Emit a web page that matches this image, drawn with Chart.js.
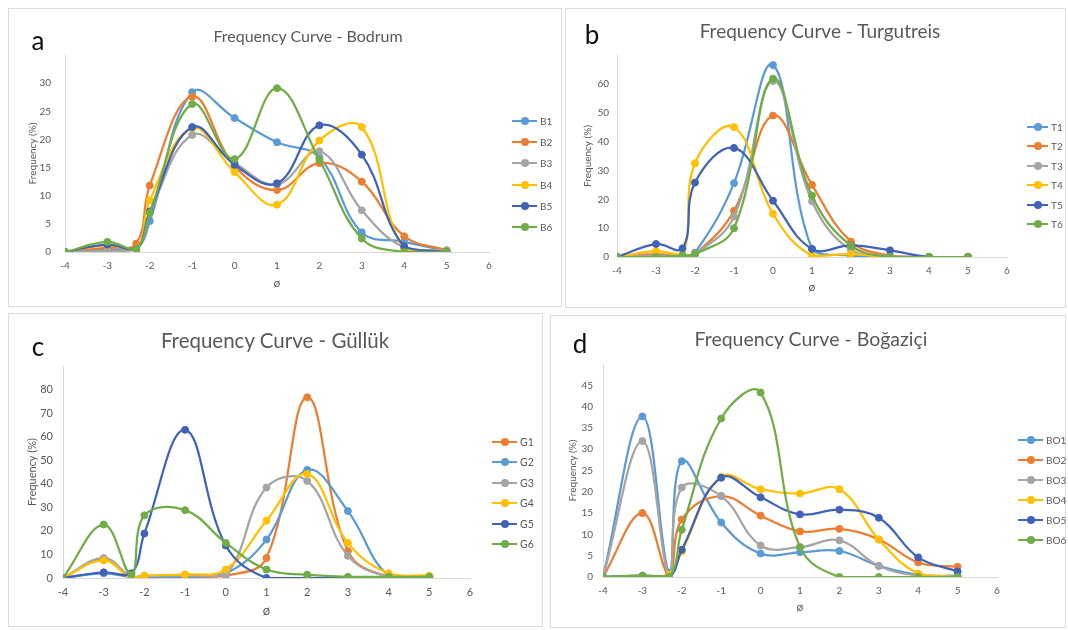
<!DOCTYPE html>
<html>
<head>
<meta charset="utf-8">
<script src="https://cdn.jsdelivr.net/npm/chart.js@4.4.0/dist/chart.umd.min.js"></script>
<style>
    body { margin: 0; background: #fff; font-family: Lato, sans-serif; width: 1068px; height: 630px; overflow: hidden; }
    .panel { position: absolute; border: 1px solid #dcdcdc; box-sizing: border-box; background: #fff; }
    .panel canvas { position: absolute; left: 0; top: 0; }
    .title { position: absolute; color: #595959; white-space: nowrap; transform: translate(-50%, -50%); }
    .letter { position: absolute; color: #111; font-size: 26px; transform: translate(-50%, -50%); }
    .lg { position: absolute; color: #595959; white-space: nowrap; height: 12px; line-height: 12px; }
    .lg .ln { position: absolute; left: 0; top: 5px; height: 2px; }
    .lg .dt { position: absolute; top: 2px; width: 8px; height: 8px; border-radius: 50%; }
</style>
</head>
<body>
<div class="panel" id="pa" style="left:8px;top:8px;width:554px;height:299px"><canvas id="chartA"></canvas></div>
<div class="panel" id="pb" style="left:565px;top:8px;width:501px;height:300px"><canvas id="chartB"></canvas></div>
<div class="panel" id="pc" style="left:8px;top:313px;width:535px;height:314px"><canvas id="chartC"></canvas></div>
<div class="panel" id="pd" style="left:550px;top:315px;width:516px;height:313px"><canvas id="chartD"></canvas></div>

<div class="letter" style="left:38px;top:40px">a</div>
<div class="letter" style="left:592px;top:34px">b</div>
<div class="letter" style="left:38px;top:346px">c</div>
<div class="letter" style="left:580px;top:343px">d</div>

<div class="title" style="left:308px;top:35px;font-size:16px">Frequency Curve - Bodrum</div>
<div class="title" style="left:820px;top:30px;font-size:19px">Frequency Curve - Turgutreis</div>
<div class="title" style="left:275px;top:340px;font-size:20.5px">Frequency Curve - Güllük</div>
<div class="title" style="left:811px;top:338px;font-size:19.5px">Frequency Curve - Boğaziçi</div>

<script>
// phi classes (x values shared by every panel)
const phi = [-4, -3, -2.32, -2, -1, 0, 1, 2, 3, 4, 5];

// Bodrum
const bodrumNames = ["B1", "B2", "B3", "B4", "B5", "B6"];
const B1 = [0, 0.5, 0.5, 5.5, 28.4, 23.8, 19.5, 16.8, 3.5, 1.8, 0.2];
const B2 = [0, 0.8, 1.5, 11.8, 27.6, 15.3, 11.0, 15.8, 12.5, 2.8, 0.3];
const B3 = [0, 0.2, 0.5, 7.0, 20.8, 15.8, 12.0, 17.9, 7.4, 0.8, 0.3];
const B4 = [0, 1.2, 0.5, 9.2, 22.0, 14.2, 8.4, 19.8, 22.2, 0.5, 0];
const B5 = [0, 1.3, 0.5, 7.2, 22.2, 15.5, 12.2, 22.5, 17.3, 1.0, 0];
const B6 = [0, 1.8, 0.5, 7.0, 26.3, 16.5, 29.1, 16.4, 2.4, 0, 0];

// Turgutreis
const turgutNames = ["T1", "T2", "T3", "T4", "T5", "T6"];
const T1 = [0, 0.5, 0.5, 1.5, 25.6, 66.5, 2.8, 0.5, 0, 0, 0];
const T2 = [0, 1.0, 0.5, 1.0, 16.0, 49.0, 25.0, 5.3, 0.5, 0, 0];
const T3 = [0, 0.5, 0.5, 1.0, 14.0, 61.0, 19.3, 2.3, 0.3, 0, 0];
const T4 = [0, 2.0, 1.0, 32.5, 45.0, 15.0, 0.5, 1.0, 0, 0, 0];
const T5 = [0, 4.5, 3.0, 25.8, 37.8, 19.5, 2.8, 4.0, 2.3, 0, 0];
const T6 = [0, 0, 0.5, 1.0, 10.0, 61.8, 21.3, 3.9, 0, 0, 0];

// Gulluk
const gullukNames = ["G1", "G2", "G3", "G4", "G5", "G6"];
const G1 = [0, 8.0, 0, 0.5, 0.5, 1.0, 8.5, 76.7, 11.4, 0.5, 0.5];
const G2 = [0, 2.0, 0.5, 0.5, 0.5, 2.0, 16.3, 45.9, 28.4, 1.0, 0];
const G3 = [0, 8.5, 0.5, 1.0, 1.0, 1.5, 38.4, 41.2, 9.4, 0.5, 0];
const G4 = [0, 7.5, 0, 1.0, 1.5, 3.6, 24.3, 44.2, 14.9, 2.0, 1.0];
const G5 = [0, 2.4, 2.0, 18.9, 62.9, 13.8, 0, 0, 0, 0, 0];
const G6 = [0, 22.7, 1.4, 26.6, 28.8, 14.9, 3.6, 1.4, 0.5, 0.5, 0.5];

// Bogazici
const bogaziciNames = ["BO1", "BO2", "BO3", "BO4", "BO5", "BO6"];
const BO1 = [0, 37.7, 1.0, 27.2, 12.8, 5.5, 5.8, 6.1, 2.6, 0.5, 0.3];
const BO2 = [0, 15.0, 0.5, 13.5, 19.0, 14.4, 10.7, 11.3, 8.8, 3.4, 2.4];
const BO3 = [0, 31.9, 0.5, 21.0, 19.0, 7.4, 7.0, 8.6, 2.6, 0.3, 0];
const BO4 = [0, 0, 0.5, 6.0, 23.5, 20.6, 19.6, 20.6, 8.8, 0.8, 0];
const BO5 = [0, 0.3, 0, 6.4, 23.3, 18.7, 14.7, 15.8, 13.9, 4.6, 1.3];
const BO6 = [0, 0.3, 0, 11.1, 37.2, 43.3, 7.0, 0, 0, 0, 0];

const xTicks = [-4, -3, -2, -1, 0, 1, 2, 3, 4, 5, 6];

// excel 2013 palette
const colorsA = ["#5B9BD5", "#ED7D31", "#A5A5A5", "#FFC000", "#4063B8", "#70AD47"];
const colorsC = ["#ED7D31", "#5B9BD5", "#A5A5A5", "#FFC000", "#4063B8", "#70AD47"];

function makePanel(opt) {
    const L = opt.box[0], T = opt.box[1], R = opt.box[2], B = opt.box[3];
    const w = R - L - 2, h = B - T - 2;
    const ox = L + 1, oy = T + 1;
    const canvas = document.getElementById(opt.id);
    canvas.width = w;
    canvas.height = h;

    const yAxisW = opt.area[0] - ox;
    const xTitleLh = opt.font * 1.2 + 2;
    const xAxisH = opt.xTitleY - opt.area[3] + xTitleLh / 2;
    const tickFont = { family: "Lato", size: opt.font };

    const datasets = opt.series.map(function (vals, i) {
        return {
            label: opt.names[i],
            data: vals.map(function (v, k) { return { x: phi[k], y: v }; }),
            borderColor: opt.colors[i],
            backgroundColor: opt.colors[i],
            pointBackgroundColor: opt.colors[i],
            pointBorderColor: opt.colors[i],
            pointRadius: 3.5,
            pointBorderWidth: 1,
            borderWidth: 2.25,
            tension: 0.4,
            order: opt.series.length - i
        };
    });

    new Chart(canvas.getContext("2d"), {
        type: "line",
        data: { datasets: datasets },
        options: {
            responsive: false,
            animation: false,
            devicePixelRatio: 1,
            layout: {
                padding: {
                    left: 0,
                    top: opt.area[1] - oy,
                    right: (ox + w) - opt.area[2],
                    bottom: (oy + h) - opt.area[3] - xAxisH
                }
            },
            plugins: { legend: { display: false }, tooltip: { enabled: false } },
            scales: {
                x: {
                    type: "linear",
                    min: -4, max: 6,
                    afterBuildTicks: function (s) { s.ticks = xTicks.map(function (v) { return { value: v }; }); },
                    afterFit: function (s) { s.height = xAxisH; },
                    grid: { display: false, drawTicks: false },
                    border: { display: true, color: "#d9d9d9", width: 1 },
                    ticks: { color: "#595959", font: tickFont, padding: opt.xPad, maxRotation: 0 },
                    title: { display: true, text: "ø", color: "#595959", font: { family: "Lato", size: opt.font + 2 }, padding: { top: 0, bottom: 1 } }
                },
                y: {
                    min: 0, max: opt.ymax,
                    ticks: {
                        stepSize: opt.ystep, color: "#595959", font: tickFont, padding: opt.yPad,
                        callback: function (v) { return v === opt.ymax ? "" : v; }
                    },
                    afterFit: function (s) { s.width = yAxisW; },
                    grid: { display: false, drawTicks: false },
                    border: { display: true, color: "#d9d9d9", width: 1 },
                    title: {
                        display: true, text: "Frequency (%)", color: "#595959",
                        font: { family: "Lato", size: opt.font },
                        padding: { top: opt.yTitleX - ox - opt.font * 0.6, bottom: 0 }
                    }
                }
            }
        }
    });

    // legend (line with marker, like excel)
    opt.names.forEach(function (name, i) {
        const item = document.createElement("div");
        item.className = "lg";
        item.style.left = opt.legend.x + "px";
        item.style.top = (opt.legend.y + i * opt.legend.step - 6) + "px";
        item.style.fontSize = opt.legend.size + "px";
        item.style.paddingLeft = (opt.legend.len + 3) + "px";
        item.innerHTML = '<span class="ln" style="width:' + opt.legend.len + 'px;background:' + opt.colors[i] + '"></span>' +
            '<span class="dt" style="left:' + (opt.legend.len / 2 - 4) + 'px;background:' + opt.colors[i] + '"></span>' + name;
        document.body.appendChild(item);
    });
}

// Bodrum Chart
makePanel({
    id: "chartA", box: [8, 8, 562, 307], area: [65, 55, 489, 252],
    ymax: 35, ystep: 5, font: 10, xPad: 8, yPad: 14, xTitleY: 284, yTitleX: 33,
    names: bodrumNames, series: [B1, B2, B3, B4, B5, B6], colors: colorsA,
    legend: { x: 512, y: 121, step: 21.2, len: 25, size: 10 }
});

// Turgutreis Chart
makePanel({
    id: "chartB", box: [565, 8, 1066, 308], area: [617, 55, 1007, 257],
    ymax: 70, ystep: 10, font: 10, xPad: 8, yPad: 8, xTitleY: 288, yTitleX: 588,
    names: turgutNames, series: [T1, T2, T3, T4, T5, T6], colors: colorsA,
    legend: { x: 1027, y: 127, step: 19.4, len: 21, size: 10 }
});

// Gulluk Chart
makePanel({
    id: "chartC", box: [8, 313, 543, 627], area: [63, 366, 470, 578],
    ymax: 90, ystep: 10, font: 11, xPad: 8, yPad: 10, xTitleY: 612, yTitleX: 32,
    names: gullukNames, series: [G1, G2, G3, G4, G5, G6], colors: colorsC,
    legend: { x: 492, y: 442, step: 20.4, len: 25, size: 10.5 }
});

// Bogazici Chart
makePanel({
    id: "chartD", box: [550, 315, 1066, 628], area: [603, 364, 997, 577],
    ymax: 50, ystep: 5, font: 10, xPad: 8, yPad: 10, xTitleY: 608, yTitleX: 573,
    names: bogaziciNames, series: [BO1, BO2, BO3, BO4, BO5, BO6], colors: colorsA,
    legend: { x: 1018, y: 440, step: 20, len: 25, size: 10 }
});
</script>
</body>
</html>
